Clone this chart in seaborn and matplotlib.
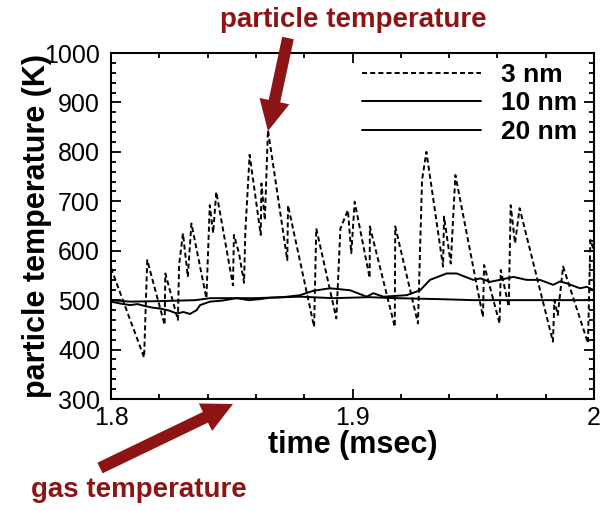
import pandas as pd
import matplotlib
matplotlib.use("Agg")
import matplotlib.pyplot as plt
import seaborn as sns
from matplotlib.lines import Line2D
from matplotlib.ticker import MultipleLocator

# 3 nm particle temperature (dashed)
t_3nm = [1.8000, 1.8137, 1.8150, 1.8222, 1.8225, 1.8277, 1.8282, 1.8298, 1.8318, 1.8333,
         1.8395, 1.8409, 1.8423, 1.8436, 1.8505, 1.8509, 1.8530, 1.8551, 1.8556, 1.8574,
         1.8620, 1.8623, 1.8637, 1.8650, 1.8730, 1.8733, 1.8841, 1.8850, 1.8933, 1.8950,
         1.8981, 1.8995, 1.9009, 1.9071, 1.9072, 1.9175, 1.9177, 1.9271, 1.9288, 1.9306,
         1.9375, 1.9379, 1.9407, 1.9426, 1.9540, 1.9545, 1.9609, 1.9614, 1.9647, 1.9655,
         1.9673, 1.9692, 1.9830, 1.9836, 1.9850, 1.9872, 1.9975, 1.9985, 2.0000]
T_3nm = [565, 384, 581, 450, 554, 460, 571, 635, 547, 655,
         504, 692, 636, 719, 530, 632, 595, 535, 636, 794,
         632, 736, 662, 844, 581, 692, 446, 645, 463, 645,
         682, 595, 699, 545, 649, 446, 649, 453, 743, 800,
         568, 669, 574, 753, 466, 571, 453, 561, 487, 692,
         615, 686, 416, 500, 470, 568, 413, 622, 600]

# 10 nm particle temperature
t_10nm = [1.8000, 1.8040, 1.8079, 1.8110, 1.8141, 1.8170, 1.8203, 1.8240, 1.8272, 1.8300,
          1.8327, 1.8355, 1.8369, 1.8410, 1.8460, 1.8520, 1.8570, 1.8617, 1.8660, 1.8712,
          1.8783, 1.8838, 1.8907, 1.8990, 1.9059, 1.9086, 1.9128, 1.9224, 1.9280, 1.9321,
          1.9390, 1.9431, 1.9500, 1.9530, 1.9569, 1.9610, 1.9666, 1.9721, 1.9776, 1.9831,
          1.9860, 1.9887, 1.9942, 1.9970, 2.0000]
T_10nm = [497, 493, 490, 492, 488, 485, 483, 479, 473, 476,
          472, 480, 490, 497, 499, 504, 500, 502, 505, 506,
          510, 519, 524, 520, 507, 514, 507, 510, 520, 541,
          554, 554, 541, 544, 537, 541, 547, 541, 541, 531,
          538, 534, 524, 527, 520]

# 20 nm particle temperature
t_20nm = [1.8000, 1.8079, 1.8200, 1.8350, 1.8410, 1.8590, 1.8783, 1.8921, 1.9068, 1.9180,
          1.9362, 1.9500, 2.0000]
T_20nm = [500, 497, 498, 500, 504, 504, 507, 504, 506, 504, 502, 500, 500]

sizes = ["3 nm", "10 nm", "20 nm"]

df = pd.concat([
    pd.DataFrame({"time": t_3nm, "temp": T_3nm, "size": sizes[0]}),
    pd.DataFrame({"time": t_10nm, "temp": T_10nm, "size": sizes[1]}),
    pd.DataFrame({"time": t_20nm, "temp": T_20nm, "size": sizes[2]}),
])

sns.set_style("ticks", {"axes.edgecolor": "black", "text.color": "black",
                        "xtick.color": "black", "ytick.color": "black",
                        "axes.labelcolor": "black",
                        "xtick.direction": "in", "ytick.direction": "in"})
plt.rcParams["font.family"] = ["Liberation Sans", "DejaVu Sans"]

dark_red = "#8c1414"

fig = plt.figure(figsize=(6.05, 5.11), dpi=100)
ax = fig.add_axes([111 / 605, 112 / 511, 483 / 605, 346 / 511])

sns.lineplot(data=df, x="time", y="temp", hue="size", style="size",
             palette={s: "black" for s in sizes},
             dashes={"3 nm": (2.6, 1.6), "10 nm": "", "20 nm": ""},
             estimator=None, sort=False, linewidth=1.4, legend=False, ax=ax)

ax.set_xlim(1.8, 2.0)
ax.set_ylim(300, 1000)
ax.set_xticks([1.8, 1.9, 2.0])
ax.set_xticklabels(["1.8", "1.9", "2"])
ax.xaxis.set_minor_locator(MultipleLocator(0.02))
ax.yaxis.set_major_locator(MultipleLocator(100))
ax.yaxis.set_minor_locator(MultipleLocator(20))
ax.tick_params(which="both", direction="in", top=True, right=True,
               bottom=True, left=True, width=1.3, color="black")
ax.tick_params(which="major", length=7, labelsize=18)
ax.tick_params(which="minor", length=3.5)
ax.tick_params(axis="y", pad=8)
ax.tick_params(axis="x", pad=5)
for sp in ax.spines.values():
    sp.set_linewidth(1.5)
    sp.set_visible(True)
    sp.set_color("black")

ax.set_xlabel("time (msec)", fontsize=22, fontweight="bold", labelpad=0)
ax.set_ylabel("particle temperature (K)", fontsize=22, fontweight="bold", labelpad=-6)

handles = [Line2D([], [], color="black", lw=1.4, dashes=(2.6, 1.6)),
           Line2D([], [], color="black", lw=1.4),
           Line2D([], [], color="black", lw=1.4)]
ax.legend(handles, sizes, loc="upper left", bbox_to_anchor=(362 / 605, 448 / 511),
          bbox_transform=fig.transFigure, frameon=False, borderpad=0, borderaxespad=0,
          handlelength=4.5, handletextpad=0.75, labelspacing=0.17,
          prop={"size": 19, "weight": "bold"})

# annotations
fig.text(353 / 605, (511 - 27) / 511, "particle temperature", color=dark_red,
         fontsize=20, fontweight="bold", ha="center", va="baseline")
fig.text(31 / 605, (511 - 497) / 511, "gas temperature", color=dark_red,
         fontsize=20, fontweight="bold", ha="left", va="baseline")

arrow = dict(arrowstyle="simple,head_width=22,head_length=22,tail_width=8.5",
             mutation_scale=1, color=dark_red, shrinkA=0, shrinkB=0, lw=0)
ax.annotate("", xy=(268, 511 - 131), xytext=(288, 511 - 38),
            xycoords="figure pixels", textcoords="figure pixels",
            arrowprops=arrow, annotation_clip=False)
ax.annotate("", xy=(233, 511 - 404), xytext=(100, 511 - 468),
            xycoords="figure pixels", textcoords="figure pixels",
            arrowprops=arrow, annotation_clip=False)

fig.savefig("out.png", dpi=100)
